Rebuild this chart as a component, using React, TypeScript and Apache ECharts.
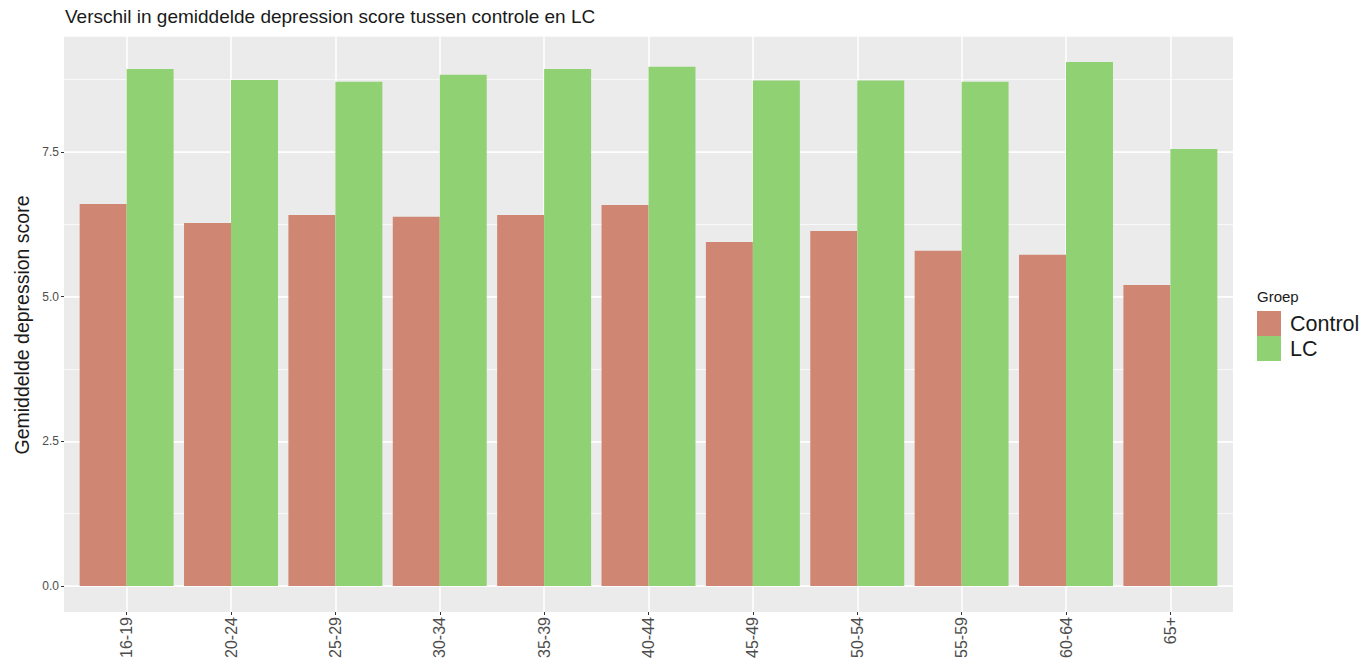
import React, { useEffect, useRef } from "react";
import * as echarts from "echarts";

const categories = ["16-19", "20-24", "25-29", "30-34", "35-39", "40-44", "45-49", "50-54", "55-59", "60-64", "65+"];
const controlValues = [6.6, 6.27, 6.41, 6.38, 6.41, 6.58, 5.94, 6.13, 5.79, 5.72, 5.2];
const lcValues = [8.93, 8.74, 8.71, 8.83, 8.93, 8.97, 8.73, 8.73, 8.71, 9.05, 7.55];
const yMajorTicks = [0, 2.5, 5, 7.5];

const FONT = "'Liberation Sans', Arial, Helvetica, sans-serif";

export default function App() {
  const ref = useRef<HTMLDivElement>(null);
  useEffect(() => {
    if (!ref.current) return;
    const chart = echarts.init(ref.current, null, { renderer: "svg" });
    const panelLeft = 64, panelTop = 36, panelW = 1169, panelH = 576;
    const zeroY = 586;
    const unit = panelW / 11.2;
    const option: any = {
      animation: false,
      backgroundColor: "#ffffff",
      textStyle: { fontFamily: FONT },
      title: [
        {
          text: "Verschil in gemiddelde depression score tussen controle en LC",
          left: 65,
          top: 7,
          padding: 0,
          textStyle: { fontSize: 19, fontWeight: "normal", color: "#1a1a1a", fontFamily: FONT },
        },
        {
          text: "Groep",
          left: 1257,
          top: 289,
          padding: 0,
          textStyle: { fontSize: 15, fontWeight: "normal", color: "#1a1a1a", fontFamily: FONT },
        },
      ],
      graphic: [
        {
          type: "rect",
          z: -10,
          shape: { x: panelLeft, y: panelTop, width: panelW, height: panelH },
          style: { fill: "#EBEBEB" },
        },
        {
          type: "text",
          rotation: Math.PI / 2,
          x: 22,
          y: 325,
          style: {
            text: "Gemiddelde depression score",
            fontSize: 19.5,
            fill: "#1a1a1a",
            fontFamily: FONT,
            align: "center",
            verticalAlign: "middle",
          },
        },
      ],
      legend: {
        orient: "vertical",
        left: 1257,
        top: 311,
        padding: 0,
        itemWidth: 24,
        itemHeight: 25,
        itemGap: 0,
        icon: "rect",
        textStyle: { fontSize: 21.5, color: "#1a1a1a", fontFamily: FONT, padding: [0, 0, 0, 4] },
        data: ["Control", "LC"],
      },
      grid: [
        { left: panelLeft, top: panelTop, width: panelW, height: zeroY - panelTop, show: false },
        {
          left: panelLeft + 0.6 * unit,
          top: panelTop,
          width: 10 * unit,
          height: panelH,
          show: false,
        },
        {
          left: panelLeft + 0.1 * unit,
          top: panelTop,
          width: 11 * unit,
          height: zeroY - panelTop,
          show: false,
        },
      ],
      xAxis: [
        { type: "value", gridIndex: 0, show: false, min: 0, max: 1 },
        {
          type: "category",
          gridIndex: 1,
          data: categories,
          boundaryGap: false,
          position: "bottom",
          axisLine: { show: false },
          axisTick: { show: true, length: 3, lineStyle: { color: "#333333", width: 1 } },
          axisLabel: { rotate: 90, color: "#4D4D4D", fontSize: 16, margin: 5, fontFamily: FONT, interval: 0 },
          splitLine: { show: true, lineStyle: { color: "#ffffff", width: 1.5 } },
        },
        { type: "category", gridIndex: 2, data: categories, show: false, boundaryGap: true },
      ],
      yAxis: [
        {
          type: "value",
          gridIndex: 0,
          min: 0,
          max: 9.5,
          interval: 2.5,
          axisLine: { show: false },
          axisTick: { show: true, length: 3, lineStyle: { color: "#333333" }, customValues: yMajorTicks },
          axisLabel: {
            color: "#4D4D4D",
            fontSize: 12,
            margin: 5,
            fontFamily: FONT,
            customValues: yMajorTicks,
            formatter: (v: number) => (yMajorTicks.indexOf(v) >= 0 ? v.toFixed(1) : ""),
          },
          splitLine: { show: true, lineStyle: { color: "#ffffff", width: 1.5 } },
        },
        {
          type: "value",
          gridIndex: 0,
          min: 0,
          max: 9.5,
          interval: 1.25,
          axisLine: { show: false },
          axisTick: { show: false },
          axisLabel: { show: false },
          splitLine: { show: true, lineStyle: { color: "#ffffff", width: 0.7 } },
        },
        { type: "value", gridIndex: 1, show: false, min: 0, max: 1, splitLine: { show: false } },
        { type: "value", gridIndex: 2, show: false, min: 0, max: 9.5, splitLine: { show: false } },
      ],
      series: [
        {
          name: "Control",
          type: "bar",
          xAxisIndex: 2,
          yAxisIndex: 3,
          data: controlValues,
          barGap: "0%",
          barCategoryGap: "10%",
          itemStyle: { color: "#CF8673" },
          z: 5,
        },
        {
          name: "LC",
          type: "bar",
          xAxisIndex: 2,
          yAxisIndex: 3,
          data: lcValues,
          barGap: "0%",
          barCategoryGap: "10%",
          itemStyle: { color: "#8FD173" },
          z: 5,
        },
      ],
    };
    chart.setOption(option);
    return () => chart.dispose();
  }, []);
  return (
    <div
      ref={ref}
      style={{ position: "absolute", left: 0, top: 0, width: 1365, height: 669 }}
    />
  );
}
